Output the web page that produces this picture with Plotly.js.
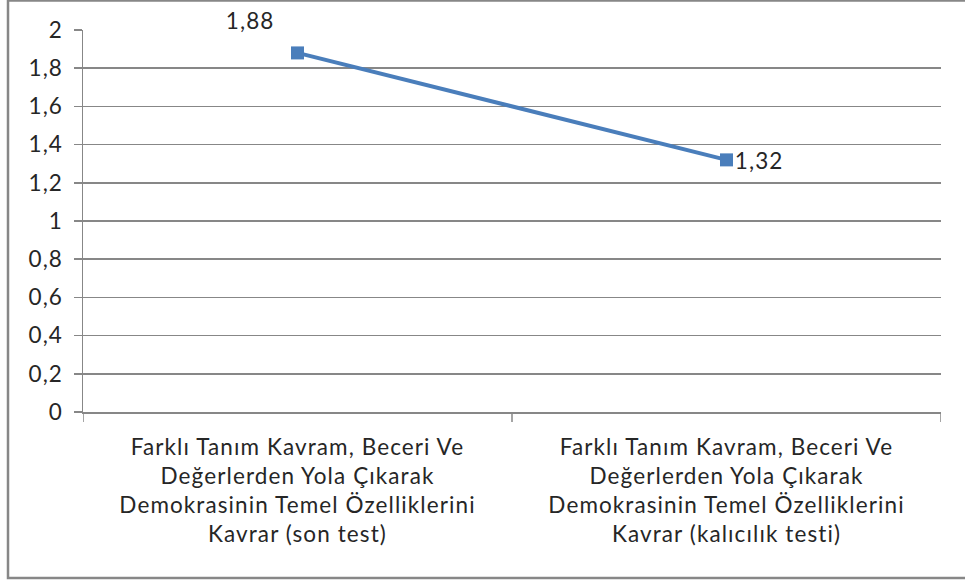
<!DOCTYPE html>
<html>
<head>
<meta charset="utf-8">
<script src="https://cdn.plot.ly/plotly-3.0.1.min.js"></script>
<style>html,body{margin:0;padding:0;background:#fff;}#chart{width:965px;height:581px;}
#chart svg text{letter-spacing:1.1px;}</style>
</head>
<body>
<div id="chart"></div>
<script>
var categories = [
  "Farklı Tanım Kavram, Beceri Ve<br>Değerlerden Yola Çıkarak<br>Demokrasinin Temel Özelliklerini<br>Kavrar (son test)",
  "Farklı Tanım Kavram, Beceri Ve<br>Değerlerden Yola Çıkarak<br>Demokrasinin Temel Özelliklerini<br>Kavrar (kalıcılık testi)"
];
var values = [1.88, 1.32];
var labelText = ["1,88", "1,32"];
var yTicks = [0, 0.2, 0.4, 0.6, 0.8, 1, 1.2, 1.4, 1.6, 1.8, 2];
var yTickText = ["0", "0,2", "0,4", "0,6", "0,8", "1", "1,2", "1,4", "1,6", "1,8", "2"];

var blue = "#4A7EBB";
var gray = "#878787";
var font = "Lato, 'Open Sans', sans-serif";
var fs = 22.5;

var trace = {
  x: [0, 1],
  y: values,
  type: "scatter",
  mode: "lines+markers",
  line: {color: blue, width: 4},
  marker: {symbol: "square", size: 13, color: blue},
  hoverinfo: "none"
};

var L = 83, R = 24, T = 30, B = 169;
var pw = 965 - L - R, ph = 581 - T - B;

var layout = {
  width: 965, height: 581,
  margin: {l: L, r: R, t: T, b: B, pad: 0},
  paper_bgcolor: "#fff", plot_bgcolor: "#fff",
  showlegend: false,
  separators: ",.",
  font: {family: font, size: fs, color: "#262626"},
  xaxis: {
    type: "linear",
    range: [-0.5, 1.5],
    tickvals: [0, 1],
    ticktext: categories,
    showgrid: false,
    zeroline: false,
    showline: true,
    linecolor: gray,
    linewidth: 1.5,
    ticks: "",
    ticklabelstandoff: 14,
    tickfont: {family: font, size: fs, color: "#262626"},
    fixedrange: true
  },
  yaxis: {
    range: [0, 2],
    tickvals: yTicks,
    ticktext: yTickText,
    showgrid: true,
    gridcolor: gray,
    gridwidth: 1.5,
    zeroline: false,
    showline: true,
    linecolor: gray,
    linewidth: 1.5,
    ticks: "outside",
    ticklen: 8,
    tickcolor: gray,
    tickwidth: 1.5,
    ticklabelstandoff: 6,
    tickfont: {family: font, size: fs, color: "#262626"},
    fixedrange: true
  },
  shapes: [
    {type: "rect", xref: "paper", yref: "paper",
     x0: (8 - L) / pw, x1: (968 - L) / pw,
     y0: (412 - 578) / ph, y1: (412 - 0.5) / ph,
     line: {color: gray, width: 2.5}, fillcolor: "rgba(0,0,0,0)"}
  ].concat([-0.5, 0.5, 1.5].map(function (v) {
    return {type: "line", xref: "x", yref: "paper", x0: v, x1: v,
            y0: 0, y1: -10 / ph, line: {color: gray, width: 1.5}};
  })),
  annotations: [
    {x: 0, y: values[0], xref: "x", yref: "y", text: labelText[0], showarrow: false,
     xanchor: "right", xshift: -24, yshift: 32, font: {family: font, size: fs, color: "#262626"}},
    {x: 1, y: values[1], xref: "x", yref: "y", text: labelText[1], showarrow: false,
     xanchor: "left", xshift: 8, yshift: -1, font: {family: font, size: fs, color: "#262626"}}
  ]
};

Plotly.newPlot("chart", [trace], layout, {displayModeBar: false, staticPlot: true});
</script>
</body>
</html>
